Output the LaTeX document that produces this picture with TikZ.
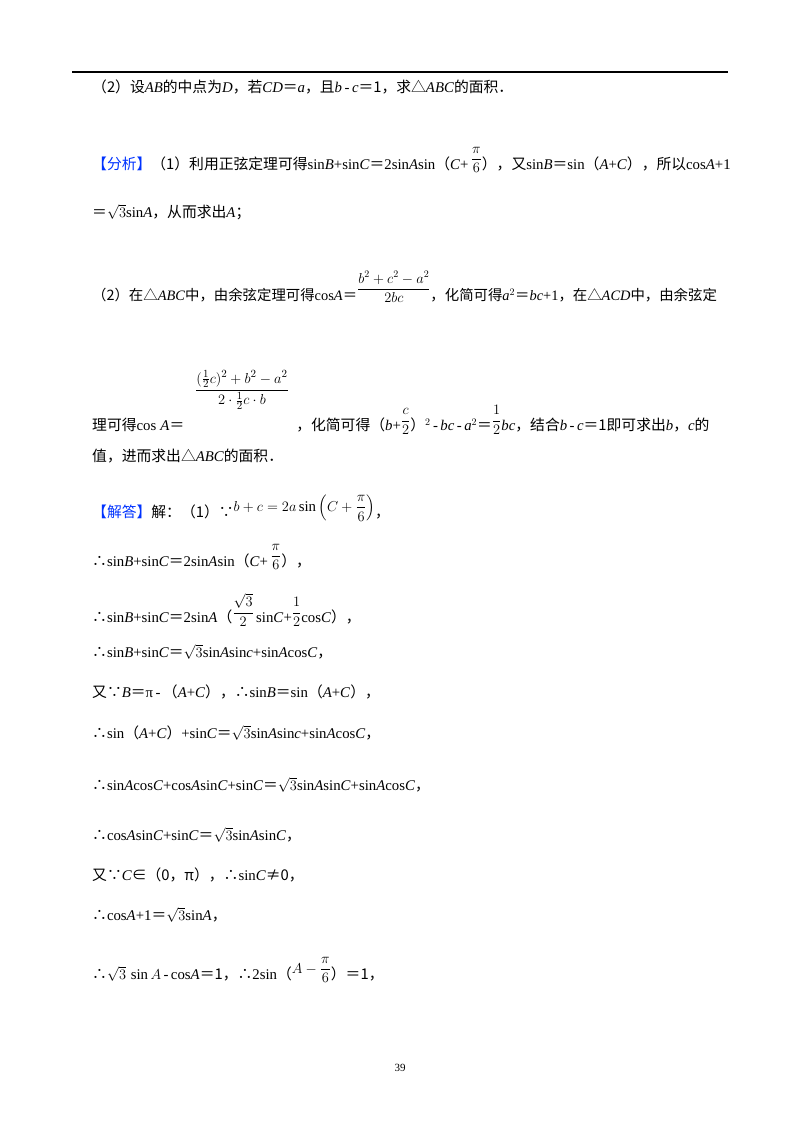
\documentclass[tikz,border=0pt]{standalone}
\usepackage{amsmath}
\usepackage{fontspec}
\setmainfont{Liberation Serif}
\newfontfamily\zhf{Noto Sans CJK SC}
\newcommand{\zh}[1]{{\zhf #1}}
\newcommand{\hl}[1]{{\color{blue!80!cyan}\zhf #1}}
\begin{document}
\begin{tikzpicture}[x=1pt,y=-1pt,
  ln/.style={anchor=west,inner sep=0pt,font=\fontsize{14.8}{17}\selectfont}]
\useasboundingbox[fill=white] (0,0) rectangle (800,1132);
\draw[line width=1.2pt] (72,72) -- (728,72);
\node[ln] (l1) at (92,87) {\zh{（2）设}\textit{AB}\zh{的中点为}\textit{D}\zh{，若}\textit{CD}\zh{＝}\textit{a}\zh{，且}\textit{b}\,-\,\textit{c}\zh{＝1，求△}\textit{ABC}\zh{的面积．}};
\node[ln] (l2) at (92,160) {\hl{【分析】}\zh{（1）利用正弦定理可得}sin\textit{B}+sin\textit{C}\zh{＝}2sin\textit{A}sin\zh{（}\textit{C}+\,\raisebox{6pt}{$\dfrac{\pi}{6}$}\zh{），又}sin\textit{B}\zh{＝}sin\zh{（}\textit{A}+\textit{C}\zh{），所以}cos\textit{A}+1};
\node[ln] (l3) at (92,212) {\zh{＝}$\sqrt{3}$sin\textit{A}\zh{，从而求出}\textit{A}\zh{；}};
\node[ln,font=\fontsize{14.4}{17}\selectfont] (l4) at (92,287) {\zh{（2）在△}\textit{ABC}\zh{中，由余弦定理可得}cos\textit{A}\zh{＝}\raisebox{8pt}{$\dfrac{b^2+c^2-a^2}{2bc}$}\zh{，化简可得}\textit{a}$^2$\zh{＝}\textit{bc}+1\zh{，在△}\textit{ACD}\zh{中，由余弦定}};
\node[ln] (l5) at (92,420) {\zh{理可得}cos\;\textit{A}\zh{＝}\hspace{112pt}\zh{，化简可得（}\textit{b}+\raisebox{6pt}{$\dfrac{c}{2}$}\zh{）}$^2$\,-\,\textit{bc}\,-\,\textit{a}$^2$\zh{＝}\raisebox{6pt}{$\dfrac{1}{2}$}\textit{bc}\zh{，结合}\textit{b}\,-\,\textit{c}\zh{＝1即可求出}\textit{b}\zh{，}\textit{c}\zh{的}};
\node[inner sep=0pt,font=\fontsize{15}{17}\selectfont] (f5) at (242,390) {$\dfrac{(\tfrac{1}{2}c)^2+b^2-a^2}{2\cdot\tfrac{1}{2}c\cdot b}$};
\node[ln] (l6) at (92,456) {\zh{值，进而求出△}\textit{ABC}\zh{的面积．}};
\node[ln] (l7) at (92,508) {\hl{【解答】}\zh{解：（1）∵}\raisebox{6pt}{$b+c=2a\sin\left(C+\dfrac{\pi}{6}\right)$}\zh{，}};
\node[ln] (l8) at (92,557) {\zh{∴}sin\textit{B}+sin\textit{C}\zh{＝}2sin\textit{A}sin\zh{（}\textit{C}+\,\raisebox{6pt}{$\dfrac{\pi}{6}$}\zh{），}};
\node[ln] (l9) at (92,610) {\zh{∴}sin\textit{B}+sin\textit{C}\zh{＝}2sin\textit{A}\zh{（}\raisebox{6pt}{$\dfrac{\sqrt{3}}{2}$}\,sin\textit{C}+\raisebox{6pt}{$\dfrac{1}{2}$}cos\textit{C}\zh{），}};
\node[ln] (l10) at (92,652) {\zh{∴}sin\textit{B}+sin\textit{C}\zh{＝}$\sqrt{3}$sin\textit{A}sin\textit{c}+sin\textit{A}cos\textit{C}\zh{，}};
\node[ln] (l11) at (92,692) {\zh{又∵}\textit{B}\zh{＝}π\,-\,\zh{（}\textit{A}+\textit{C}\zh{），∴}sin\textit{B}\zh{＝}sin\zh{（}\textit{A}+\textit{C}\zh{），}};
\node[ln] (l12) at (92,733) {\zh{∴}sin\zh{（}\textit{A}+\textit{C}\zh{）}+sin\textit{C}\zh{＝}$\sqrt{3}$sin\textit{A}sin\textit{c}+sin\textit{A}cos\textit{C}\zh{，}};
\node[ln] (l13) at (92,785) {\zh{∴}sin\textit{A}cos\textit{C}+cos\textit{A}sin\textit{C}+sin\textit{C}\zh{＝}$\sqrt{3}$sin\textit{A}sin\textit{C}+sin\textit{A}cos\textit{C}\zh{，}};
\node[ln] (l14) at (92,835) {\zh{∴}cos\textit{A}sin\textit{C}+sin\textit{C}\zh{＝}$\sqrt{3}$sin\textit{A}sin\textit{C}\zh{，}};
\node[ln] (l15) at (92,875) {\zh{又∵}\textit{C}\zh{∈（0，π），∴}sin\textit{C}\zh{≠0，}};
\node[ln] (l16) at (92,915) {\zh{∴}cos\textit{A}+1\zh{＝}$\sqrt{3}$sin\textit{A}\zh{，}};
\node[ln] (l17) at (92,970) {\zh{∴}$\sqrt{3}\,\sin A$\,-\,cos\textit{A}\zh{＝1，∴}2sin\zh{（}\raisebox{6pt}{$A-\dfrac{\pi}{6}$}\zh{）＝1，}};
\node[font=\fontsize{11}{13}\selectfont] (pg) at (400,1068) {39};
\end{tikzpicture}
\end{document}
